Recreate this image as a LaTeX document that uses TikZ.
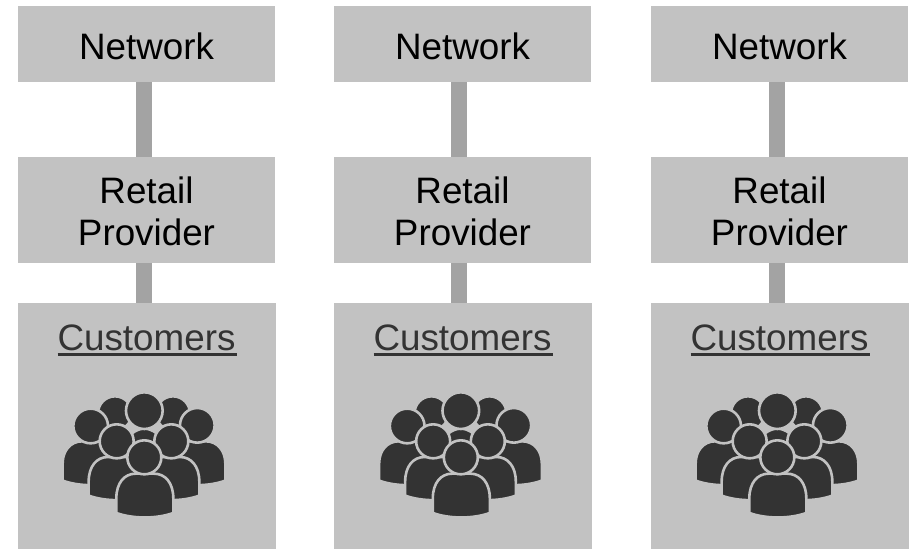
\documentclass[tikz,border=0pt]{standalone}
\usepackage{fontspec}
\setmainfont{Liberation Sans}
\newcommand{\personbody}[5]{% left, right, top, shoulder y, bottom y
  \filldraw[iconfill] ({#1},{#5}) -- ({#1},{#4})
    .. controls ({#1},{#3+28}) and ({#1+24},{#3}) .. ({#1+58},{#3})
    -- ({#2-58},{#3})
    .. controls ({#2-24},{#3}) and ({#2},{#3+28}) .. ({#2},{#4})
    -- ({#2},{#5})
    .. controls ({#2-50},{#5+18}) and ({#1+50},{#5+18}) .. ({#1},{#5}) -- cycle;}
\newcommand{\personhead}[3]{\filldraw[iconfill] ({#1},{#2}) circle[radius=#3];}
\newcommand{\crowd}[2]{%
  \begin{scope}[shift={(#1,#2)},x=0.3333pt,y=-0.3333pt]
    \personhead{285}{340}{51}
    \personhead{459}{340}{51}
    \personbody{320}{426}{385}{420}{470}
    \personhead{373}{332}{55}
    \personbody{128}{296}{424}{490}{542}
    \personbody{448}{616}{424}{490}{542}
    \personhead{212}{378}{52}
    \personhead{532}{376}{52}
    \personbody{206}{376}{471}{545}{587}
    \personbody{368}{538}{471}{545}{587}
    \personhead{290}{424}{51}
    \personhead{454}{424}{51}
    \personbody{289}{460}{521}{595}{639}
    \personhead{373}{472}{51}
  \end{scope}}
\tikzset{
  iconfill/.style={fill=iconc,draw=boxc,line width=2.6pt},
  boxnode/.style={fill=boxc,draw=none,inner sep=0pt,anchor=north west,align=center,text=black,font=\fontsize{36.8pt}{42.5pt}\selectfont},
  link/.style={draw=linkc,line width=16pt}
}
\definecolor{boxc}{HTML}{C2C2C2}
\definecolor{linkc}{HTML}{A3A3A3}
\definecolor{iconc}{HTML}{333333}
\begin{document}
\begin{tikzpicture}[x=1pt,y=-1pt]
\useasboundingbox (0,0) rectangle (910,549);
\foreach \i/\xa/\xl/\dx in {1/18/143.7/0,2/334/459.2/316.5,3/651/777.3/633}{
  \node[boxnode,minimum width=257pt,minimum height=76pt] (net\i) at (\xa,6) {};
  \node[boxnode,minimum width=257pt,minimum height=105.5pt] (ret\i) at (\xa,157) {};
  \node[boxnode,minimum width=257.5pt,minimum height=246pt] (cus\i) at (\xa,303) {};
  \node[inner sep=0pt,text=black,font=\fontsize{36.8pt}{42.5pt}\selectfont,anchor=base] (nt\i) at (\xa+128.5,59.5) {Network};
  \node[inner sep=0pt,text=black,font=\fontsize{36.8pt}{42.5pt}\selectfont,anchor=base] (rt\i) at (\xa+128.5,203) {Retail};
  \node[inner sep=0pt,text=black,font=\fontsize{36.8pt}{42.5pt}\selectfont,anchor=base] (pt\i) at (\xa+128.5,245) {Provider};
  \coordinate (cl\i) at (\xl,303);
  \draw[link] (net\i.south -| cl\i) -- (ret\i.north -| cl\i);
  \draw[link] (ret\i.south -| cl\i) -- (cl\i);
  \node[inner sep=0pt,text=iconc,font=\fontsize{36.8pt}{42.5pt}\selectfont,anchor=base] (cap\i) at (\xa+128.5,350.5) {Customers};
  \coordinate (ula\i) at (\xa+39.5,354.5);
  \coordinate (ulb\i) at (\xa+218.5,354.5);
  \draw[iconc,line width=3pt] (ula\i) -- (ulb\i);
  \crowd{20+\dx}{300}
}
\end{tikzpicture}
\end{document}
